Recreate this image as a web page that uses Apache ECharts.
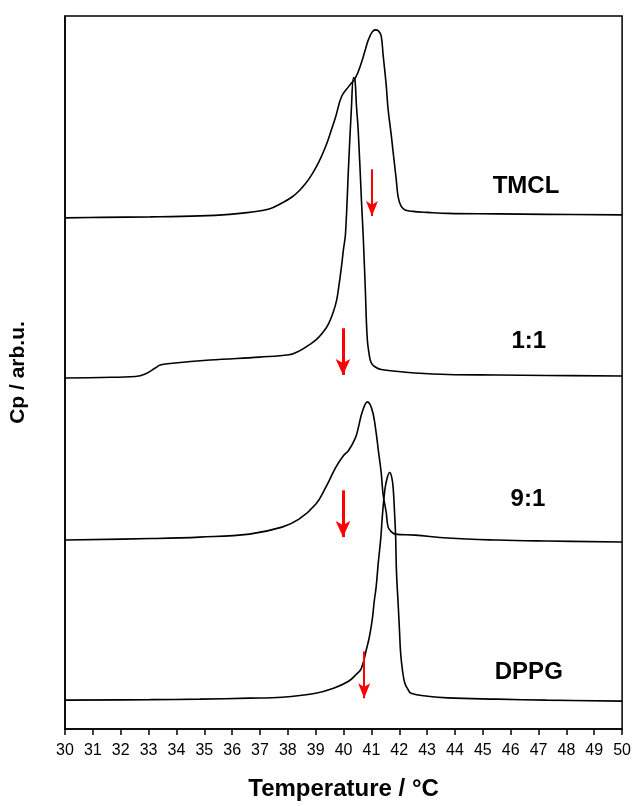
<!DOCTYPE html>
<html>
<head>
<meta charset="utf-8">
<script src="https://cdn.jsdelivr.net/npm/echarts@6/dist/echarts.min.js"></script>
<style>
html,body{margin:0;padding:0;background:#fff;}
#chart{width:634px;height:806px;}
</style>
</head>
<body>
<div id="chart"></div>
<script>
// ---- Data (temperature in °C, Cp in arbitrary units incl. vertical stacking offset) ----
const tmclT = [30.00,31.28,33.06,34.84,35.91,36.62,37.33,37.79,38.15,38.40,38.65,38.86,39.11,39.36,39.57,39.72,39.93,40.18,40.43,40.64,40.78,40.89,41.03,41.14,41.25,41.35,41.42,41.53,41.60,41.71,41.78,41.89,41.96,42.06,42.21,42.49,43.02,43.74,45.52,47.30,50.00];
const tmclV = [514,514.5,515,516,517.5,519.5,523,529,535,541,549,557.5,570,586,603,616,636,646,655,670,683,693,701,703,702,697,678,648,623,598,580,553,535,526,522,520.5,519.5,518.5,518,517.5,517];

const r11T = [30.00,31.28,32.53,32.88,33.24,33.42,33.77,35.20,36.98,38.04,38.40,38.75,39.04,39.29,39.47,39.64,39.75,39.82,39.93,40.00,40.07,40.18,40.28,40.36,40.41,40.46,40.53,40.64,40.71,40.78,40.85,40.93,41.00,41.14,41.35,41.96,42.56,43.74,45.52,47.30,50.00];
const r11V = [353,353.5,354.5,357,363,366,367.5,371,374,376.3,380,386,392,400,408,420,431,443,466,483,498,566,623,655,653,628,600,533,493,443,393,375,368,364,361.5,359.5,358,356.5,356,355.5,355];

const r91T = [30.00,33.06,34.84,36.62,37.79,38.40,39.00,39.36,39.72,40.00,40.18,40.43,40.53,40.64,40.75,40.85,40.96,41.07,41.17,41.25,41.35,41.42,41.53,41.60,41.71,41.85,42.56,43.74,45.52,47.30,50.00];
const r91V = [190,191.5,193,196,203,211,226,243,263,275,280,293,303,316,325,329,326,316,298,280,258,236,218,203,198.5,196,195,192,190,189,188];

const dppgT = [30.00,33.06,34.84,36.62,37.79,39.00,39.64,40.18,40.46,40.64,40.82,40.93,41.03,41.10,41.17,41.25,41.34,41.39,41.48,41.57,41.66,41.73,41.78,41.83,41.87,41.90,41.96,42.01,42.05,42.12,42.20,42.31,42.42,43.02,43.74,45.52,47.30,50.00];
const dppgV = [29,29.5,30,31,32,36,41,48,55,61,80,93,110,128,143,168,193,213,240,253,258,253,243,218,193,158,126,98,76,58,46,40,36,33,31.3,30,29,28];

const seriesNames = ['TMCL','1:1','9:1','DPPG'];
// label anchor positions (data coords)
const labelT = [46.55, 46.65, 46.62, 46.65];
const labelV = [546, 390, 231, 57];
// red arrows: temperature, start value, tip value
const arrowT = [41.02, 39.98, 39.98, 40.74];
const arrowStart = [563, 403, 240, 78];
const arrowEnd = [516, 356, 193, 31];

const xTicks = {min:30, max:50, interval:1};

// ---- Build ----
const zip = (a,b) => a.map((v,i)=>[v,b[i]]);
const curves = [zip(tmclT,tmclV), zip(r11T,r11V), zip(r91T,r91V), zip(dppgT,dppgV)];
const FONT = 'Liberation Sans, Arial, sans-serif';
const thick = [false, true, true, false];

const series = curves.map((d,i)=>({
  name: seriesNames[i],
  type: 'line',
  data: d,
  smooth: 0.4,
  showSymbol: false,
  symbol: 'none',
  lineStyle: {color:'#000', width:1.6},
  z: 2,
  markPoint: {
    silent: true,
    symbol: 'circle',
    symbolSize: 0,
    label: {show:true, formatter: seriesNames[i], color:'#000', fontFamily: FONT, fontWeight:'bold', fontSize:24, position:'inside'},
    data: [{coord:[labelT[i], labelV[i]]}]
  },
  markLine: {
    silent: true,
    symbol: ['none','arrow'],
    symbolSize: thick[i] ? [11,16] : [9,15],
    label: {show:false},
    lineStyle: {color:'#ff0000', width: thick[i] ? 3 : 2, type:'solid'},
    data: [[{coord:[arrowT[i], arrowStart[i]]},{coord:[arrowT[i], arrowEnd[i]]}]]
  }
}));

const chart = echarts.init(document.getElementById('chart'), null, {renderer:'canvas'});
chart.setOption({
  animation: false,
  backgroundColor: '#fff',
  grid: {left:64, right:8, top:16, bottom:73, show:true, borderColor:'#000', borderWidth:1.5, backgroundColor:'transparent'},
  xAxis: {
    type:'value', min:xTicks.min, max:xTicks.max, interval:xTicks.interval,
    name:'Temperature / °C', nameLocation:'middle', nameGap:48,
    nameTextStyle:{fontFamily:FONT, fontWeight:'bold', fontSize:24, color:'#000'},
    axisLine:{show:true, onZero:false, lineStyle:{color:'#000', width:1.5}},
    axisTick:{show:true, inside:false, length:6, lineStyle:{color:'#000', width:1.5}},
    axisLabel:{fontFamily:FONT, fontSize:16, color:'#000', margin:14},
    splitLine:{show:false}
  },
  yAxis: {
    type:'value', min:0, max:717,
    name:'Cp / arb.u.', nameLocation:'middle', nameGap:36,
    nameTextStyle:{fontFamily:FONT, fontWeight:'bold', fontSize:21, color:'#000'},
    axisLine:{show:true, lineStyle:{color:'#000', width:1.5}},
    axisTick:{show:false}, axisLabel:{show:false}, splitLine:{show:false}
  },
  series: series
});
</script>
</body>
</html>
